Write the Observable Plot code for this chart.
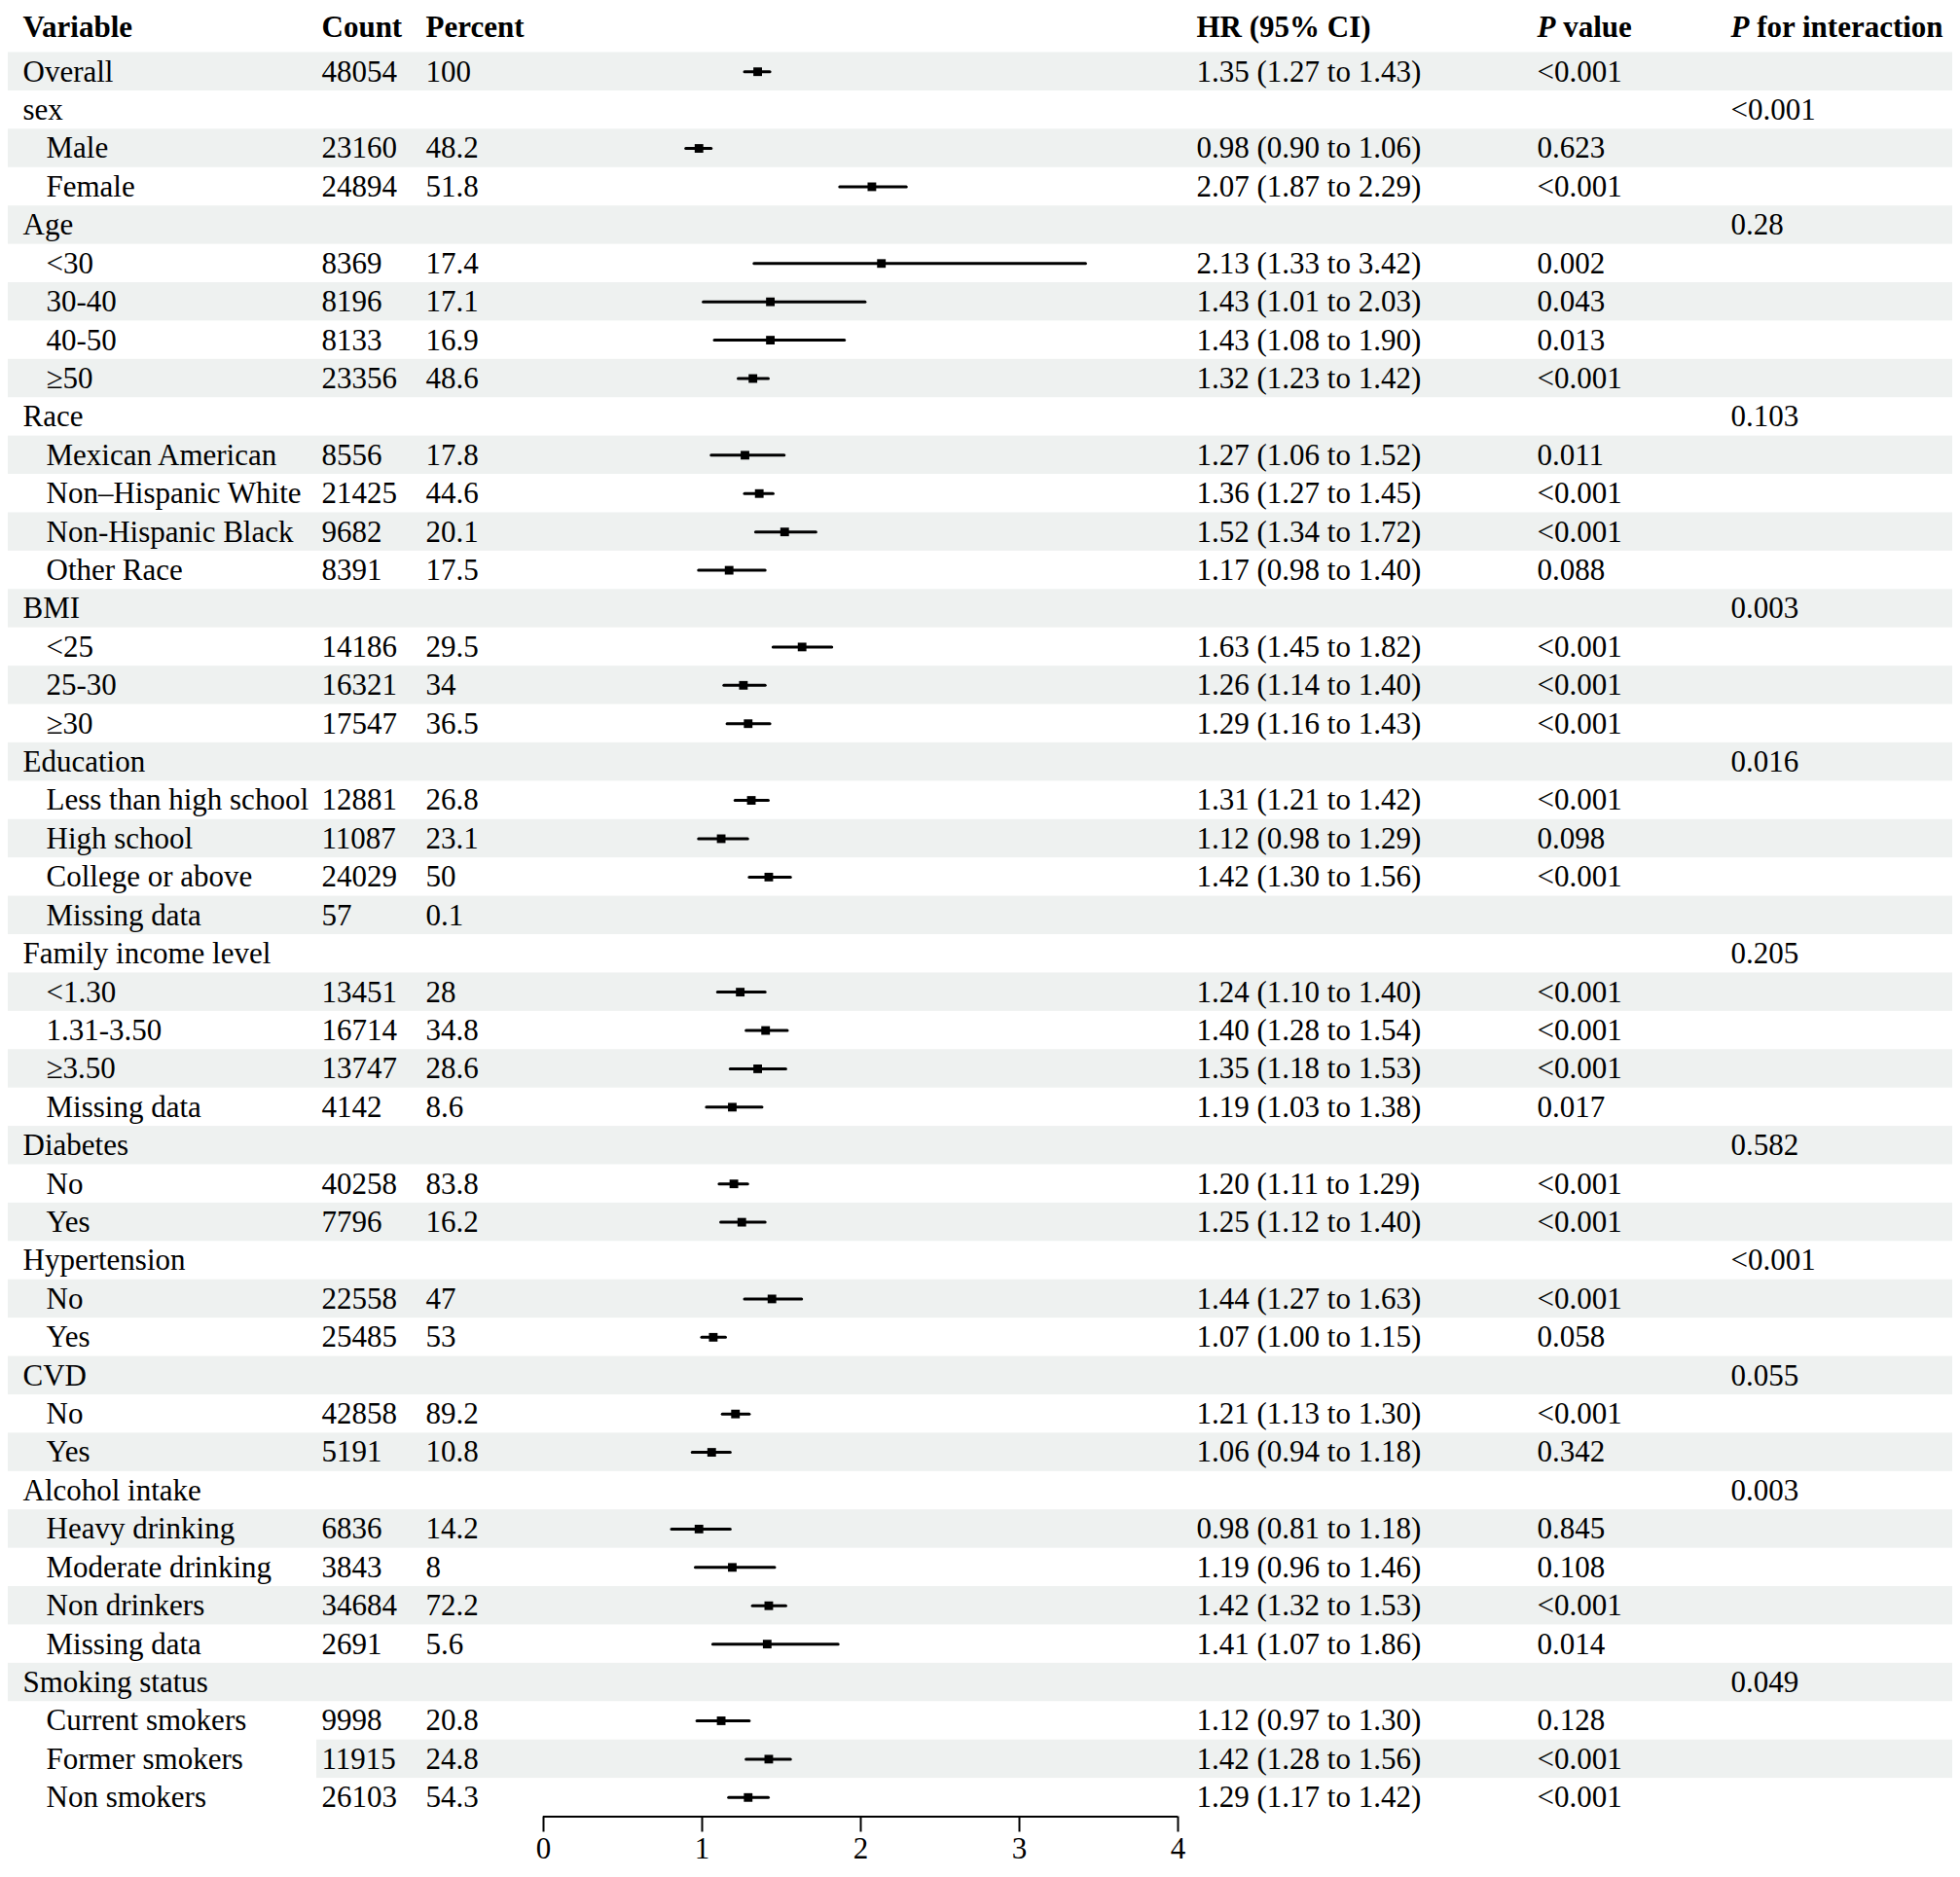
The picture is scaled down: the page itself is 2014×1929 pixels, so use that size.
<!DOCTYPE html>
<html>
<head>
<meta charset="utf-8">
<script src="https://cdn.jsdelivr.net/npm/d3@7"></script>
<script src="https://cdn.jsdelivr.net/npm/@observablehq/plot@0.6"></script>
<style>
  html, body { margin: 0; padding: 0; background: #ffffff; }
  #chart svg { display: block; }
</style>
</head>
<body>
<div id="chart"></div>
<script>
// ---- Data ----
const variables = [
  "Overall", "sex", "Male", "Female", "Age", "<30", "30-40", "40-50", "≥50",
  "Race", "Mexican American", "Non–Hispanic White", "Non-Hispanic Black", "Other Race",
  "BMI", "<25", "25-30", "≥30",
  "Education", "Less than high school", "High school", "College or above", "Missing data",
  "Family income level", "<1.30", "1.31-3.50", "≥3.50", "Missing data",
  "Diabetes", "No", "Yes",
  "Hypertension", "No", "Yes",
  "CVD", "No", "Yes",
  "Alcohol intake", "Heavy drinking", "Moderate drinking", "Non drinkers", "Missing data",
  "Smoking status", "Current smokers", "Former smokers", "Non smokers"
];
// 0 = top-level row, 1 = indented subgroup row
const levels = [
  0, 0, 1, 1, 0, 1, 1, 1, 1,
  0, 1, 1, 1, 1,
  0, 1, 1, 1,
  0, 1, 1, 1, 1,
  0, 1, 1, 1, 1,
  0, 1, 1,
  0, 1, 1,
  0, 1, 1,
  0, 1, 1, 1, 1,
  0, 1, 1, 1
];
const counts = [
  "48054", "", "23160", "24894", "", "8369", "8196", "8133", "23356",
  "", "8556", "21425", "9682", "8391",
  "", "14186", "16321", "17547",
  "", "12881", "11087", "24029", "57",
  "", "13451", "16714", "13747", "4142",
  "", "40258", "7796",
  "", "22558", "25485",
  "", "42858", "5191",
  "", "6836", "3843", "34684", "2691",
  "", "9998", "11915", "26103"
];
const percents = [
  "100", "", "48.2", "51.8", "", "17.4", "17.1", "16.9", "48.6",
  "", "17.8", "44.6", "20.1", "17.5",
  "", "29.5", "34", "36.5",
  "", "26.8", "23.1", "50", "0.1",
  "", "28", "34.8", "28.6", "8.6",
  "", "83.8", "16.2",
  "", "47", "53",
  "", "89.2", "10.8",
  "", "14.2", "8", "72.2", "5.6",
  "", "20.8", "24.8", "54.3"
];
const hr = [
  1.35, null, 0.98, 2.07, null, 2.13, 1.43, 1.43, 1.32,
  null, 1.27, 1.36, 1.52, 1.17,
  null, 1.63, 1.26, 1.29,
  null, 1.31, 1.12, 1.42, null,
  null, 1.24, 1.40, 1.35, 1.19,
  null, 1.20, 1.25,
  null, 1.44, 1.07,
  null, 1.21, 1.06,
  null, 0.98, 1.19, 1.42, 1.41,
  null, 1.12, 1.42, 1.29
];
const ciLow = [
  1.27, null, 0.90, 1.87, null, 1.33, 1.01, 1.08, 1.23,
  null, 1.06, 1.27, 1.34, 0.98,
  null, 1.45, 1.14, 1.16,
  null, 1.21, 0.98, 1.30, null,
  null, 1.10, 1.28, 1.18, 1.03,
  null, 1.11, 1.12,
  null, 1.27, 1.00,
  null, 1.13, 0.94,
  null, 0.81, 0.96, 1.32, 1.07,
  null, 0.97, 1.28, 1.17
];
const ciHigh = [
  1.43, null, 1.06, 2.29, null, 3.42, 2.03, 1.90, 1.42,
  null, 1.52, 1.45, 1.72, 1.40,
  null, 1.82, 1.40, 1.43,
  null, 1.42, 1.29, 1.56, null,
  null, 1.40, 1.54, 1.53, 1.38,
  null, 1.29, 1.40,
  null, 1.63, 1.15,
  null, 1.30, 1.18,
  null, 1.18, 1.46, 1.53, 1.86,
  null, 1.30, 1.56, 1.42
];
const pValues = [
  "<0.001", "", "0.623", "<0.001", "", "0.002", "0.043", "0.013", "<0.001",
  "", "0.011", "<0.001", "<0.001", "0.088",
  "", "<0.001", "<0.001", "<0.001",
  "", "<0.001", "0.098", "<0.001", "",
  "", "<0.001", "<0.001", "<0.001", "0.017",
  "", "<0.001", "<0.001",
  "", "<0.001", "0.058",
  "", "<0.001", "0.342",
  "", "0.845", "0.108", "<0.001", "0.014",
  "", "0.128", "<0.001", "<0.001"
];
const pInteraction = [
  "", "<0.001", "", "", "0.28", "", "", "", "",
  "0.103", "", "", "", "",
  "0.003", "", "", "",
  "0.016", "", "", "", "",
  "0.205", "", "", "", "",
  "0.582", "", "",
  "<0.001", "", "",
  "0.055", "", "",
  "0.003", "", "", "", "",
  "0.049", "", "", ""
];
const headers = ["Variable", "Count", "Percent", "HR (95% CI)", "P value", "P for interaction"];
const axisTicks = [0, 1, 2, 3, 4];

// ---- Build table ----
const rows = variables.map((v, i) => ({
  i, variable: v, level: levels[i], count: counts[i], percent: percents[i],
  hr: hr[i], lo: ciLow[i], hi: ciHigh[i],
  hrText: hr[i] == null ? "" : `${hr[i].toFixed(2)} (${ciLow[i].toFixed(2)} to ${ciHigh[i].toFixed(2)})`,
  p: pValues[i], pInt: pInteraction[i]
}));
const est = rows.filter(d => d.hr != null);
const shaded = rows.filter(d => d.i % 2 === 0);

// ---- Layout ----
const W = 2014, H = 1929;
const FS = 31;
const FONT = "'Liberation Serif', 'Times New Roman', Times, serif";
const colX = { varTop: 23, varSub: 47, count: 330, percent: 437, hr: 1229, p: 1579, pInt: 1778 };
const headerPos = [colX.varTop, colX.count, colX.percent, colX.hr, colX.p, colX.pInt];
const headerRows = headers.map((h, k) => ({ h, dx: headerPos[k] }));
const headerY = -1.15;

const textCol = (data, text, dx, extra = {}) =>
  Plot.text(data, { y: "i", text, frameAnchor: "left", textAnchor: "start", dx, fontSize: FS, fill: "black", ...extra });

const chart = Plot.plot({
  width: W,
  height: H,
  marginLeft: 0,
  marginRight: 0,
  marginTop: 53.5,
  marginBottom: 62.5,
  style: { fontFamily: FONT, fontSize: FS + "px", background: "white", color: "black" },
  x: { domain: [0, 4], range: [558, 1210], label: null },
  y: { domain: [-0.5, 45.5], reverse: true, axis: null },
  marks: [
    // zebra bands
    Plot.rect(shaded.filter(d => d.variable !== "Former smokers"), {
      y1: d => d.i - 0.5, y2: d => d.i + 0.5, fill: "#eef1f0", insetLeft: 8, insetRight: 8
    }),
    Plot.rect(shaded.filter(d => d.variable === "Former smokers"), {
      y1: d => d.i - 0.5, y2: d => d.i + 0.5, fill: "#eef1f0", insetLeft: 325, insetRight: 8
    }),
    // header
    ...headerRows.map(r => Plot.text([r], {
      y: () => headerY, text: "h", frameAnchor: "left", textAnchor: "start",
      dx: r.dx, fontSize: FS, fontWeight: "bold", fill: "black"
    })),
    // table columns
    textCol(rows.filter(d => d.level === 0), "variable", colX.varTop),
    textCol(rows.filter(d => d.level === 1), "variable", colX.varSub),
    textCol(rows, "count", colX.count),
    textCol(rows, "percent", colX.percent),
    textCol(rows, "hrText", colX.hr),
    textCol(rows, "p", colX.p),
    textCol(rows, "pInt", colX.pInt),
    // forest
    Plot.ruleY(est, { y: "i", x1: "lo", x2: "hi", stroke: "black", strokeWidth: 3, strokeLinecap: "round" }),
    Plot.dot(est, { x: "hr", y: "i", symbol: "square", r: 5, fill: "black", stroke: "none" }),
    // axis
    Plot.ruleY([45.5], { x1: 0, x2: 4, stroke: "black", strokeWidth: 2 }),
    Plot.axisX({
      anchor: "bottom", ticks: axisTicks, tickSize: 16, tickPadding: 5,
      tickFormat: d => String(d), fontSize: FS, strokeWidth: 2, label: null, fill: "black"
    })
  ]
});

// italic "P" in the P-value headers
chart.querySelectorAll("text").forEach(t => {
  const s = t.textContent;
  if (s === "P value" || s === "P for interaction") {
    const target = t.querySelector("tspan") || t;
    target.textContent = "";
    const ns = "http://www.w3.org/2000/svg";
    const a = document.createElementNS(ns, "tspan");
    a.setAttribute("font-style", "italic");
    a.textContent = "P";
    const b = document.createElementNS(ns, "tspan");
    b.textContent = s.slice(1);
    target.appendChild(a);
    target.appendChild(b);
  }
});

document.getElementById("chart").appendChild(chart);
</script>
</body>
</html>
